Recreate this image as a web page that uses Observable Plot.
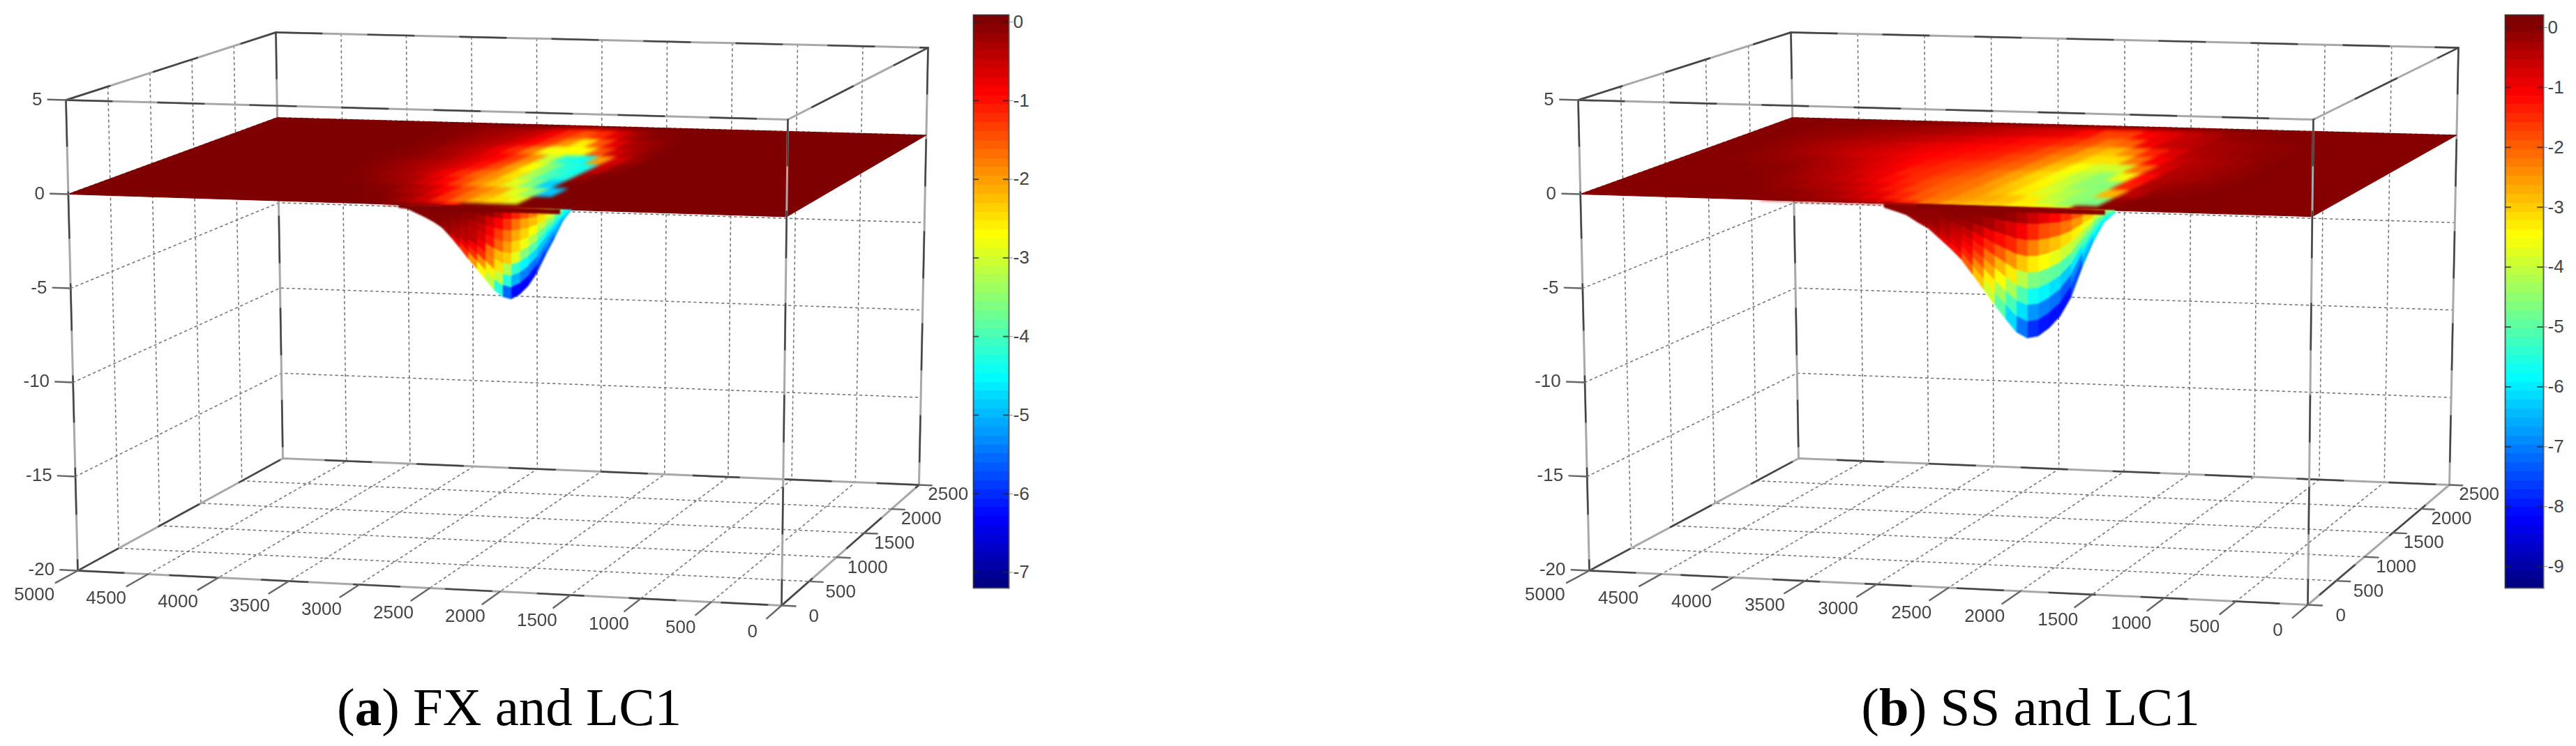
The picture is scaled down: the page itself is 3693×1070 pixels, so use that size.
<!DOCTYPE html>
<html><head><meta charset="utf-8">
<script src="https://cdn.jsdelivr.net/npm/d3@7"></script>
<script src="https://cdn.jsdelivr.net/npm/@observablehq/plot@0.6"></script>
<style>
html,body{margin:0;padding:0;background:#fff}
#page{position:relative;width:3693px;height:1070px;overflow:hidden}
.panel,.bar{position:absolute}
svg{overflow:visible;background:transparent!important}
.cap{position:absolute;top:976px;font:77px/77px "Liberation Serif",serif;color:#000;white-space:nowrap;transform:translateX(-50%)}
</style></head><body><div id="page"></div>
<script>
// axis ticks
const xTicks=[0,500,1000,1500,2000,2500,3000,3500,4000,4500,5000];
const yTicks=[0,500,1000,1500,2000,2500];
const zTicks=[5,0,-5,-10,-15,-20];
const planeRowsY=[0,250,500,750,1000,1250,1500,1750,2000,2250,2500];
const planeColsA=[1750,1875,2000,2125,2250,2375,2500,2625,2750,2875,3000,3125,3250,3375,3500,3625,3750,3875];
const planeA=[
[0,0,0,0,0,-1,-.5,-.3,-.1,0,0,0,0,0,0,0,0,0],
[0,0,-2.9,-2.5,-2.2,-1.7,-1.2,-.6,-.3,-.1,-.02,0,0,0,0,0,0,0],
[0,-4.9,-3.5,-2.9,-2.1,-1.8,-1.4,-.9,-.5,-.3,-.1,-.05,0,0,0,0,0,0],
[0,0,-4.8,-3.6,-2.9,-2.3,-1.9,-1.4,-.9,-.6,-.3,-.2,-.1,-.02,0,0,0,0],
[0,-.2,-4.3,-4,-3.3,-2.5,-1.9,-1.6,-1.2,-.8,-.5,-.3,-.2,-.1,-.02,0,0,0],
[-.1,-.5,-4.4,-4.2,-3.5,-2.7,-2,-1.4,-1,-.7,-.5,-.35,-.25,-.15,-.05,0,0,0],
[-.2,-.6,-2,-4.4,-4.2,-3.1,-1.9,-1.3,-.9,-.7,-.5,-.3,-.2,-.1,-.05,-.02,0,0],
[-.1,-.3,-.6,-1.5,-2.7,-2.7,-2.8,-1.8,-1.2,-.8,-.5,-.35,-.25,-.1,-.05,0,0,0],
[-.05,-.2,-.3,-.7,-1.5,-2.6,-1.9,-1.3,-.9,-.6,-.4,-.3,-.2,-.1,-.05,0,0,0],
[0,-.05,-.1,-.3,-.7,-1.2,-1.5,-1.2,-.8,-.5,-.35,-.25,-.2,-.1,-.05,0,0,0],
[0,0,0,-.1,-.3,-.6,-.7,-.7,-.5,-.2,-.1,0,0,0,0,0,0,0]];
const planeColsB=[1000,1150,1300,1450,1600,1750,1900,2050,2200,2350,2500,2650,2800,2950,3100,3250,3400,3550,3700,3850,4000,4150,4300,4450,4600];
const planeB=[
[0,0,0,0,-.2,-3.9,-3.5,-3.4,-3.1,-3,-2.8,-2.3,-1.4,-.8,-.5,-.3,-.2,-.1,-.05,0,0,0,0,0,0],
[0,0,0,-.1,-4.7,-4.5,-4,-3.3,-2.9,-2.7,-2.5,-2.2,-1.9,-1.4,-.9,-.6,-.35,-.2,-.1,-.05,0,0,0,0,0],
[0,-.05,-.1,-.5,-2.8,-4.5,-4.2,-3.8,-3.3,-2.9,-2.5,-2.2,-2,-1.7,-1.3,-.9,-.6,-.4,-.3,-.15,-.05,0,0,0,0],
[-.05,-.1,-.2,-.4,-1.4,-4.6,-4.5,-4,-3.4,-3,-2.6,-2.2,-2,-1.8,-1.5,-1.2,-.9,-.6,-.45,-.3,-.15,-.05,0,0,0],
[-.1,-.2,-.3,-.4,-1.2,-3.6,-4.5,-4.1,-3.6,-3.1,-2.6,-2.2,-1.9,-1.7,-1.5,-1.4,-1,-.8,-.55,-.4,-.25,-.1,-.05,0,0],
[-.1,-.2,-.3,-.4,-.8,-2.2,-3.9,-3.9,-3.5,-2.9,-2.4,-2,-1.8,-1.6,-1.5,-1.3,-1.1,-.9,-.7,-.5,-.35,-.2,-.15,-.1,-.05],
[-.05,-.2,-.3,-.4,-.6,-1.1,-2.2,-3.2,-3.2,-2.7,-2.3,-1.9,-1.7,-1.4,-1.3,-1.2,-1.1,-.95,-.8,-.7,-.55,-.4,-.3,-.15,-.05],
[-.05,-.1,-.2,-.3,-.4,-.8,-1.4,-2.3,-2.9,-2.6,-2.1,-1.8,-1.5,-1.3,-1.2,-1.1,-1,-.9,-.75,-.6,-.5,-.4,-.3,-.2,-.1],
[-.05,-.1,-.15,-.25,-.3,-.5,-.6,-1,-2,-2.2,-1.8,-1.5,-1.3,-1.2,-1,-.9,-.75,-.65,-.55,-.45,-.35,-.3,-.2,-.15,-.1],
[0,0,-.05,-.1,-.2,-.4,-.6,-.9,-1.1,-1.7,-1.7,-1.2,-.9,-.8,-.7,-.6,-.5,-.4,-.3,-.25,-.2,-.15,-.1,-.07,-.05],
[0,0,0,0,-.1,-.2,-.35,-.5,-.7,-.9,-.9,-.9,-.6,-.55,-.5,-.45,-.4,-.3,-.2,-.15,-.1,-.05,0,0,0]];
// the part of the trough seen below the front edge: column X, its depth, 8 colour values top to bottom
const sheetXA=[1500,1560,1620,1680,1740,1800,1860,1920,1980,2040,2100,2160,2220,2280,2340,2400,2460,2520,2580,2640,2700];
const sheetDepthA=[0,.62,1.55,2.41,3.34,4.02,4.48,4.73,4.62,4.27,3.73,3.2,2.68,2.12,1.59,1.12,.83,.6,.4,.2,.15];
const sheetA=[
[-4.5,-4.5,-4.5,-4.5,-4.6,-4.7,-4.8,-4.9],
[-4.2,-4.3,-4.4,-4.5,-4.6,-4.8,-4.9,-5],
[-3.2,-3.3,-3.6,-3.9,-4.6,-4.9,-5.2,-5.4],
[-2.6,-2.7,-3.3,-3.9,-4.5,-5,-5.3,-5.8],
[-1.9,-2.3,-2.9,-3.5,-4,-4.8,-5.4,-6],
[-1.6,-2.2,-2.5,-2.9,-3.8,-4.7,-5.6,-6.4],
[-1.3,-1.9,-2.3,-2.7,-3.3,-4.4,-5.2,-6.2],
[-1,-1.5,-1.9,-2.1,-2.5,-3.9,-4.9,-6.3],
[-.6,-1,-1.5,-1.9,-2.2,-2.6,-3.6,-4.9],
[-.2,-.8,-1.1,-1.3,-2.2,-2.4,-2.6,-3.6],
[-.1,-.4,-.6,-.8,-1.2,-1.2,-2.6,-2.7],
[-.05,-.2,-.4,-.5,-.5,-1.2,-1.2,-2.6],
[-.05,-.1,-.3,-.4,-.4,-.5,-1.2,-1.3],
[-.05,-.05,-.1,-.2,-.4,-.4,-.4,-1.1],
[-.03,-.05,-.05,-.1,-.1,-.2,-.3,-.4],
[-.02,-.03,-.05,-.05,-.05,-.05,-.1,-.1],
[-.02,-.02,-.03,-.03,-.05,-.05,-.05,-.05],
[0,0,-.02,-.02,-.03,-.03,-.03,-.03],
[0,0,0,0,0,0,0,0],[0,0,0,0,0,0,0,0],[0,0,0,0,0,0,0,0]];
const sheetXB=[1350,1425,1500,1575,1650,1725,1800,1875,1950,2025,2100,2175,2250,2325,2400,2475,2550,2625,2700,2775,2850,2925];
const sheetDepthB=[.13,.65,1.72,3.06,4.6,5.6,6.22,6.66,6.78,6.48,5.8,5.09,4.3,3.54,2.79,2.23,1.72,1.22,.91,.55,.37,.2];
const sheetB=[
[-5,-5.1,-5.2,-5.3,-5.4,-5.5,-5.6,-5.7],
[-3.8,-4.1,-4.5,-4.9,-5.2,-5.5,-5.8,-6],
[-2.9,-3.4,-4,-4.5,-5,-5.4,-5.9,-6.2],
[-2.2,-2.6,-3.3,-4,-4.7,-5.6,-6.4,-7],
[-1.7,-2.4,-3.4,-4.1,-5.2,-6.4,-7.4,-8],
[-1.3,-2,-2.9,-3.8,-5,-6.2,-7.3,-8.1],
[-1,-1.9,-2.9,-3.6,-4.9,-6,-7,-8],
[-.8,-1.7,-2.5,-3.4,-4.7,-5.8,-7,-8],
[-.5,-1.2,-2.1,-3.2,-4.6,-5.6,-6.6,-7.5],
[-.2,-.9,-1.6,-2.7,-3.6,-4.6,-5.6,-6.7],
[-.1,-.7,-1.3,-2.2,-3,-3.9,-4.8,-5.6],
[-.05,-.4,-1.1,-1.7,-2.6,-3.1,-3.8,-4.4],
[-.05,-.2,-.8,-1.3,-1.7,-2.2,-2.9,-3.4],
[-.05,-.1,-.3,-.8,-1.1,-1.4,-1.9,-2.5],
[-.05,-.05,-.2,-.4,-.7,-.9,-1,-1.5],
[-.1,-.05,-.1,-.4,-.5,-.6,-.8,-1],
[-.2,-.1,-.05,-.1,-.2,-.3,-.5,-.8],
[-.3,-.2,-.15,-.1,-.1,-.15,-.2,-.3],
[-.1,-.1,-.1,-.1,-.1,-.1,-.2,-.2],
[-.05,-.05,-.05,-.05,-.05,-.05,-.1,-.1],
[-.05,-.05,-.05,-.05,-.05,-.05,-.05,-.05],
[-.05,-.05,-.05,-.05,-.05,-.05,-.05,-.05]];
const jet=["#00007f","#0000ff","#00ffff","#ffff00","#ff0000","#7f0000"];
const fontNum='"Liberation Sans Narrow","Liberation Sans",sans-serif';

const panels=[
 {xDomain:[0,1846],vmin:-7.2,vmax:0,barTop:.09,band:[1580,2400],
  cam:{ftl:[94,143],ftr:[1129,171],btl:[395,46],btr:[1330,68],fbl:[111,818],fbr:[1120,868],bbl:[405,657],bbr:[1317,695]},
  cols:planeColsA,plane:planeA,step:125,sx:sheetXA,sd:sheetDepthA,sv:sheetA,
  barTicks:[0,-1,-2,-3,-4,-5,-6,-7],bar:{left:1395,width:51},cap:["a"," FX and LC1",730]},
 {xDomain:[1846,3693],vmin:-9.36,vmax:.06,barTop:.21,band:[1420,2700],
  cam:{ftl:[2262,143],ftr:[3316,171],btl:[2567,46],btr:[3524,68],fbl:[2278,818],fbr:[3308,867],bbl:[2578,657],bbr:[3511,695]},
  cols:planeColsB,plane:planeB,step:150,sx:sheetXB,sd:sheetDepthB,sv:sheetB,
  barTicks:[0,-1,-2,-3,-4,-5,-6,-7,-8,-9],bar:{left:3591,width:55},cap:["b"," SS and LC1",2911]}
];
const colorOf=p=>{const s=p.vmax-p.vmin,m=p.vmin;
  return {type:"linear",clamp:true,domain:[m,m+s/8,m+3*s/8,m+5*s/8,m+7*s/8,p.vmax],range:jet};};

function draw(p){
  const c=p.cam;
  const proj=(X,Y,Z)=>{const u=X/5000,v=Y/2500,w=(5-Z)/25;
    const m=i=>{const top=(1-v)*((1-u)*c.ftr[i]+u*c.ftl[i])+v*((1-u)*c.btr[i]+u*c.btl[i]);
      const bot=(1-v)*((1-u)*c.fbr[i]+u*c.fbl[i])+v*((1-u)*c.bbr[i]+u*c.bbl[i]);
      return (1-w)*top+w*bot;};
    return {x:m(0),y:m(1)};};
  let id=0;
  const path=(rows,pts,extra={})=>{id++;for(const q of pts){const s=proj(...q);rows.push({id,x:s.x,y:s.y,...extra});}};
  // box and grid
  const edgesBack=[],edgesFront=[],grid=[],ticks=[];
  const T=5,B=-20;
  path(edgesBack,[[5000,2500,T],[0,2500,T],[0,0,T]]);
  path(edgesBack,[[5000,0,T],[5000,2500,T]]);
  path(edgesBack,[[5000,2500,T],[5000,2500,B]]);
  path(edgesBack,[[0,2500,T],[0,2500,B]]);
  path(edgesBack,[[5000,0,B],[5000,2500,B],[0,2500,B],[0,0,B]]);
  path(edgesFront,[[5000,0,T],[0,0,T]]);
  path(edgesFront,[[5000,0,T],[5000,0,B]]);
  path(edgesFront,[[0,0,T],[0,0,B]]);
  path(edgesFront,[[5000,0,B],[0,0,B]]);
  for(const X of xTicks.slice(1,-1)){path(grid,[[X,2500,T],[X,2500,B],[X,0,B]]);}
  for(const Y of yTicks.slice(1,-1)){path(grid,[[5000,Y,T],[5000,Y,B],[0,Y,B]]);}
  for(const Z of zTicks.slice(1,-1)){path(grid,[[5000,0,Z],[5000,2500,Z],[0,2500,Z]]);}
  for(const X of xTicks)path(ticks,[[X,0,B],[X,-270,B]]);
  for(const Y of yTicks)path(ticks,[[0,Y,B],[-100,Y,B]]);
  for(const Z of zTicks)path(ticks,[[5000,0,Z],[5125,0,Z]]);
  const lab=[...xTicks.map(t=>({...proj(t,-530,B),t})),
             ...yTicks.map(t=>({...proj(-230,t,-20.45),t}))];
  const labZ=zTicks.map(t=>({...proj(5165,0,t),t}));
  // surface layers
  const base=[],patch=[],sheet=[],band=[];
  path(base,[[5000,0,0],[0,0,0],[0,2500,0],[5000,2500,0]],{v:0});
  p.plane.forEach((row,i)=>row.forEach((v,j)=>{
    if(v===0)return;
    const X=p.cols[j],Y=planeRowsY[i],y0=Math.max(0,Y-125),y1=Math.min(2420,Y+125);
    path(patch,[[X-p.step/2,y0,0],[X+p.step/2,y0,0],[X+p.step/2,y1,0],[X-p.step/2,y1,0]],{v});
  }));
  for(let j=0;j<p.sx.length-1;j++)for(let k=0;k<8;k++){
    const a=p.sd[j],b=p.sd[j+1];
    path(sheet,[[p.sx[j],0,-a*k/8],[p.sx[j+1],0,-b*k/8],[p.sx[j+1],0,-b*(k+1)/8],[p.sx[j],0,-a*(k+1)/8]],
      {v:(p.sv[j][k]+p.sv[j+1][k])/2});
  }
  path(band,[[p.band[0],0,0],[p.band[1],0,0],[p.band[1],0,-.22],[p.band[0],0,-.22]],{v:0});
  const lineCommon={x:"x",y:"y",z:"id"};
  const surf=(rows,o={})=>Plot.line(rows,{...lineCommon,curve:"linear-closed",fill:"v",stroke:"v",strokeWidth:1,...o});
  const box=rows=>[
    Plot.line(rows,{...lineCommon,stroke:"#a8a8a8",strokeWidth:3}),
    Plot.line(rows,{...lineCommon,stroke:"#444",strokeWidth:2.4,strokeDasharray:"66,66"})];
  const chart=Plot.plot({width:p.xDomain[1]-p.xDomain[0],height:976,margin:0,
    x:{domain:p.xDomain,range:[0,p.xDomain[1]-p.xDomain[0]],axis:null},
    y:{domain:[0,976],range:[0,976],axis:null},
    color:colorOf(p),
    marks:[
      Plot.line(grid,{...lineCommon,stroke:"#777",strokeWidth:1.6,strokeDasharray:"3,5"}),
      ...box(edgesBack),
      surf(base),
      surf(patch,{imageFilter:"blur(2.5px)"}),
      surf(sheet,{imageFilter:"blur(1.2px)"}),
      surf(band,{imageFilter:"blur(1px)"}),
      ...box(edgesFront),
      Plot.line(ticks,{...lineCommon,stroke:"#666",strokeWidth:2.4}),
      Plot.text(lab,{x:"x",y:"y",text:d=>String(d.t),textAnchor:"middle",fontFamily:fontNum,fontSize:26,fill:"#444",imageFilter:"blur(.5px)"}),
      Plot.text(labZ,{x:"x",y:"y",text:d=>String(d.t),textAnchor:"end",fontFamily:fontNum,fontSize:26,fill:"#444",imageFilter:"blur(.5px)"})
    ]});
  const div=document.createElement("div");div.className="panel";
  div.style.left=p.xDomain[0]+"px";div.style.top="0";div.append(chart);
  page.append(div);

  // colour bar
  const levels=d3.range(64),span=p.barTop-p.vmin;
  const bar=Plot.plot({width:p.bar.width+45,height:842,marginLeft:0,marginRight:45,marginTop:10,marginBottom:10,
    x:{domain:[0,1],axis:null},
    y:{domain:[p.vmin,p.barTop],axis:null},
    color:colorOf(p),
    marks:[
      Plot.rect(levels,{x1:()=>0,x2:()=>1,y1:i=>p.vmin+span*i/64,y2:i=>p.vmin+span*(i+1)/64,
        fill:i=>p.vmin+span*(i+.5)/64,shapeRendering:"crispEdges"}),
      Plot.ruleY(p.barTicks,{x1:()=>0,x2:()=>.16,y:d=>d,stroke:"#222",strokeOpacity:.7,strokeWidth:2}),
      Plot.ruleY(p.barTicks,{x1:()=>.84,x2:()=>1,y:d=>d,stroke:"#222",strokeOpacity:.7,strokeWidth:2}),
      Plot.frame({stroke:"#333",strokeOpacity:.75,strokeWidth:2}),
      Plot.axisY(p.barTicks,{anchor:"right",tickSize:5,tickPadding:1,tickFormat:d=>String(d),stroke:"#888",
        fontFamily:fontNum,fontSize:26,fill:"#444",label:null})
    ]});
  const bd=document.createElement("div");bd.className="bar";
  bd.style.left=p.bar.left+"px";bd.style.top="11px";bd.style.width=(p.bar.width+45)+"px";bd.append(bar);
  page.append(bd);
  // caption
  const cap=document.createElement("div");cap.className="cap";cap.style.left=p.cap[2]+"px";
  cap.innerHTML="(<b>"+p.cap[0]+"</b>)"+p.cap[1];
  page.append(cap);
}
const page=document.getElementById("page");
panels.forEach(draw);
</script></body></html>
